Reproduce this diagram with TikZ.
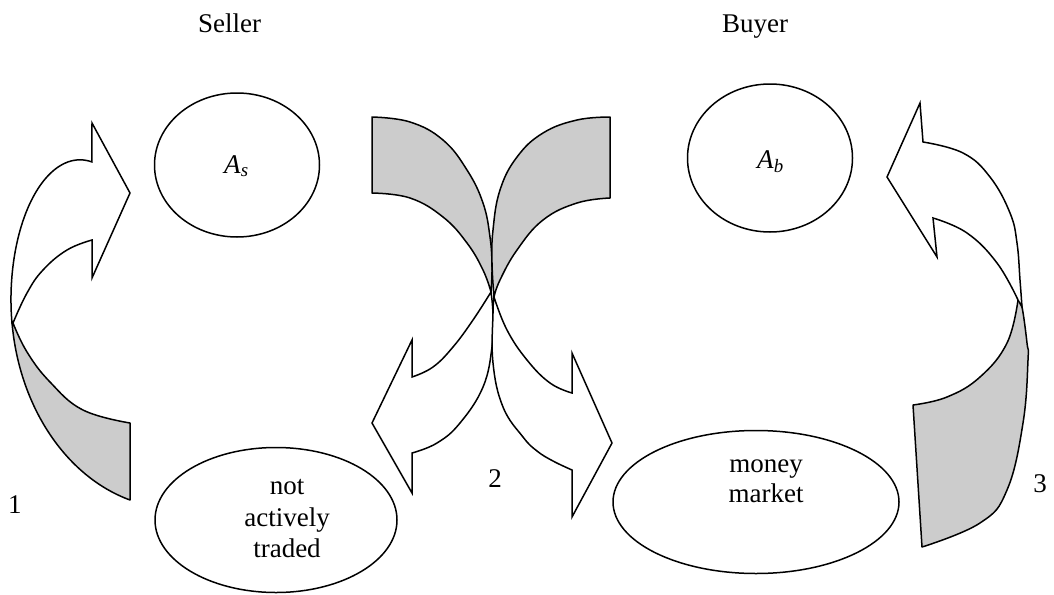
\documentclass[tikz,border=0pt]{standalone}
\usepackage{fontspec}
\setmainfont{Liberation Serif}
\usetikzlibrary{shapes.geometric}
\definecolor{shade}{RGB}{204,204,204}
\begin{document}
\begin{tikzpicture}[x=1pt,y=-1pt,
  back/.style={draw=black, line width=1.5pt, fill=shade, line join=round},
  front/.style={draw=black, line width=1.5pt, fill=white, line join=miter},
  oval/.style={draw=black, line width=1.5pt, ellipse, inner sep=0pt},
  txt/.style={font=\fontsize{27}{31}\selectfont, inner sep=0pt, anchor=base},
  sm/.style={smooth, tension=0.7}]
\useasboundingbox (0,0) rectangle (1054,594);

% ellipses
\node[oval, minimum width=165pt, minimum height=144pt] (es) at (237,165) {};
\node[oval, minimum width=165pt, minimum height=148pt] (eb) at (770,158) {};
\node[oval, minimum width=242pt, minimum height=145pt] (en) at (276,520) {};
\node[oval, minimum width=286pt, minimum height=143pt] (em) at (756,502) {};

% labels
\node[txt, anchor=base west] (seller) at (198,33) {Seller};
\node[txt, anchor=base west] (buyer) at (722,33) {Buyer};
\node[txt, anchor=base west] (as) at (224,173) {\textit{A}\textsubscript{\textit{s}}};
\node[txt, anchor=base west] (ab) at (757,168) {\textit{A}\textsubscript{\textit{b}}};
\node[txt] (n1) at (287,494) {not};
\node[txt] (n2) at (287,526) {actively};
\node[txt] (n3) at (287,557) {traded};
\node[txt] (m1) at (766,472) {money};
\node[txt] (m2) at (766,502) {market};
\node[txt] (l1) at (15,513) {1};
\node[txt] (l2) at (495,487) {2};
\node[txt] (l3) at (1040,492) {3};

% arrow 1
\path[back] plot[sm] coordinates {(13,323) (27,352) (50,382) (83,410) (130,423)}
  -- (130,500)
  arc[start angle=106.2, end angle=173.6, x radius=165, y radius=208] -- cycle;
\path[front] (12,323) arc[start angle=173.6, end angle=180, x radius=165, y radius=208]
  arc[start angle=180, end angle=280, x radius=69, y radius=140]
  -- (92,123) -- (130,193) -- (92,278) -- (92,240)
  -- plot[sm] coordinates {(92,240) (67,250) (43,270) (27,293) (13,323)} -- cycle;

% arrow 2 left
\path[back] plot[sm] coordinates {(372,117) (410,122) (443,140) (467,170) (483,203) (490,237) (492,267) (491,292)}
  -- plot[sm] coordinates {(491,292) (483,270) (467,243) (443,217) (410,198) (372,193)} -- cycle;
\path[front] plot[sm] coordinates {(491,292) (473,320) (453,347) (433,367) (412,377)}
  -- (412,340) -- (372,423) -- (412,493) -- (412,453)
  -- plot[sm] coordinates {(412,453) (437,443) (460,423) (483,387) (492,347) (493,315) (491,292)} -- cycle;

% arrow 2 right
\path[back] plot[sm] coordinates {(610,117) (577,120) (543,133) (517,157) (500,190) (493,230) (492,263) (494,297)}
  -- plot[sm] coordinates {(494,297) (500,280) (517,250) (543,220) (577,203) (610,198)} -- cycle;
\path[front] plot[sm] coordinates {(494,297) (507,330) (527,360) (550,383) (572,393)}
  -- (572,353) -- (612,443) -- (572,517) -- (572,470)
  -- plot[sm] coordinates {(572,470) (553,461) (537,451) (523,437) (503,407) (493,363) (493,313) (494,297)} -- cycle;

% arrow 3
\path[back] plot[sm] coordinates {(1018,300) (1022,307) (1027,343) (1028,360) (1023,423) (1007,490) (980,523) (922,547)}
  -- (913,405)
  -- plot[sm] coordinates {(913,405) (947,397) (980,377) (1007,343) (1018,300)} -- cycle;
\path[front] plot[sm] coordinates {(1018,300) (997,263) (967,233) (933,218)}
  -- (937,257) -- (887,177) -- (920,103) -- (923,142)
  -- plot[sm] coordinates {(923,142) (963,153) (990,177) (1010,213) (1017,243) (1020,280) (1022,307)} -- cycle;
\end{tikzpicture}
\end{document}
